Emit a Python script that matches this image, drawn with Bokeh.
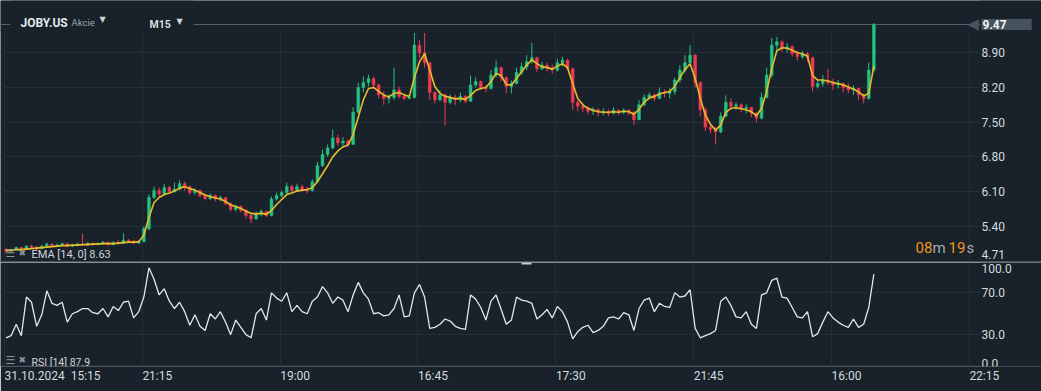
from bokeh.plotting import figure
from bokeh.models import (Range1d, FixedTicker, Grid, Label, Span, BoxAnnotation, Div,
                          CustomJSTickFormatter, ColumnDataSource)
from bokeh.layouts import column
from bokeh.embed import file_html
from bokeh.resources import INLINE

# ---------------- data ----------------
symbol = "JOBY.US"
asset_kind = "Akcie"
timeframe = "M15"
time_labels = ["31.10.2024\u00a0\u00a015:15", "21:15", "19:00", "16:45", "17:30", "21:45", "16:00", "22:15"]
candles_per_label = 27
price_ticks = [5.40, 6.10, 6.80, 7.50, 8.20, 8.90]
rsi_ticks = [30.0, 70.0]
rsi_bounds = [0.0, 100.0]
last_price = 9.47
price_floor_label = 4.71
ema_last = 8.63
rsi_last = 87.9
countdown = ("08", "m", "19", "s")

first_open = 4.93
close = [
    4.90, 4.93, 4.97, 4.94, 5.00, 4.98, 4.95, 5.00, 5.04, 5.01,
    5.02, 5.05, 5.00, 5.02, 5.04, 5.03, 5.06, 5.04, 5.05, 5.08,
    5.03, 5.07, 5.06, 5.12, 5.10, 5.06, 5.09, 5.35, 5.98, 6.12,
    6.05, 6.18, 6.10, 6.15, 6.26, 6.20, 6.08, 6.12, 6.02, 5.96,
    6.02, 5.95, 5.98, 5.86, 5.74, 5.80, 5.72, 5.62, 5.55, 5.66,
    5.70, 5.62, 5.95, 6.02, 6.08, 6.20, 6.12, 6.20, 6.15, 6.12,
    6.30, 6.62, 6.85, 6.98, 7.18, 7.08, 7.12, 7.05, 7.70, 8.20,
    8.30, 8.38, 8.25, 8.05, 7.98, 8.00, 8.15, 8.02, 7.98, 8.00,
    9.05, 8.90, 8.70, 8.10, 7.95, 8.05, 7.90, 8.00, 7.95, 8.02,
    7.92, 8.25, 8.32, 8.20, 8.18, 8.45, 8.60, 8.40, 8.22, 8.28,
    8.50, 8.62, 8.72, 8.80, 8.58, 8.65, 8.60, 8.55, 8.70, 8.75,
    8.58, 7.90, 7.82, 7.78, 7.72, 7.75, 7.70, 7.72, 7.68, 7.74,
    7.70, 7.74, 7.70, 7.55, 7.85, 8.00, 8.05, 7.98, 8.10, 8.08,
    8.12, 8.35, 8.55, 8.70, 8.85, 8.30, 7.75, 7.40, 7.35, 7.30,
    7.62, 7.90, 7.82, 7.85, 7.78, 7.80, 7.68, 7.58, 8.00, 8.45,
    9.05, 9.12, 8.98, 9.02, 8.88, 8.82, 8.88, 8.80, 8.22, 8.28,
    8.35, 8.30, 8.25, 8.28, 8.20, 8.15, 8.18, 8.05, 7.98, 8.55,
    9.47,
]
high = [
    4.96, 4.95, 4.99, 4.99, 5.02, 5.03, 5.00, 5.02, 5.07, 5.06,
    5.05, 5.07, 5.06, 5.04, 5.07, 5.25, 5.08, 5.07, 5.08, 5.10,
    5.09, 5.10, 5.12, 5.26, 5.14, 5.12, 5.12, 5.40, 6.05, 6.20,
    6.18, 6.25, 6.22, 6.28, 6.33, 6.30, 6.22, 6.16, 6.14, 6.06,
    6.06, 6.04, 6.02, 5.99, 5.88, 5.84, 5.82, 5.74, 5.65, 5.70,
    5.74, 5.72, 6.00, 6.08, 6.12, 6.28, 6.24, 6.26, 6.24, 6.20,
    6.35, 6.70, 6.95, 7.05, 7.35, 7.25, 7.20, 7.15, 7.80, 8.30,
    8.42, 8.46, 8.42, 8.28, 8.12, 8.06, 8.60, 8.22, 8.08, 8.04,
    9.30, 9.15, 9.30, 8.70, 8.12, 8.15, 8.08, 8.06, 8.05, 8.10,
    8.05, 8.44, 8.40, 8.34, 8.25, 8.55, 8.74, 8.62, 8.42, 8.34,
    8.60, 8.70, 8.85, 9.10, 8.82, 8.72, 8.70, 8.66, 8.78, 8.82,
    8.78, 8.60, 7.95, 7.88, 7.82, 7.80, 7.78, 7.78, 7.76, 7.80,
    7.76, 7.78, 7.76, 7.72, 7.95, 8.06, 8.10, 8.08, 8.20, 8.16,
    8.18, 8.40, 8.65, 8.85, 9.06, 8.88, 8.32, 7.80, 7.45, 7.40,
    7.70, 8.04, 7.98, 7.90, 7.88, 7.86, 7.80, 7.70, 8.10, 8.60,
    9.20, 9.22, 9.15, 9.10, 9.05, 8.95, 8.94, 8.92, 8.82, 8.35,
    8.45, 8.58, 8.38, 8.35, 8.30, 8.28, 8.24, 8.20, 8.08, 8.70,
    9.50,
]
low = [
    4.86, 4.87, 4.91, 4.90, 4.93, 4.95, 4.92, 4.94, 4.99, 4.98,
    4.98, 5.00, 4.98, 4.98, 5.00, 5.00, 5.01, 5.01, 5.02, 5.03,
    5.01, 5.02, 5.03, 5.05, 5.06, 5.04, 5.05, 5.08, 5.32, 5.95,
    5.98, 6.02, 6.05, 6.08, 6.12, 6.12, 6.04, 6.04, 5.98, 5.92,
    5.93, 5.90, 5.90, 5.82, 5.70, 5.70, 5.68, 5.55, 5.46, 5.53,
    5.60, 5.58, 5.60, 5.92, 5.98, 6.05, 6.08, 6.10, 6.10, 6.06,
    6.10, 6.28, 6.60, 6.80, 6.95, 7.02, 7.02, 7.00, 7.05, 7.68,
    8.10, 8.22, 8.18, 7.98, 7.85, 7.88, 7.95, 7.98, 7.95, 7.96,
    7.98, 8.80, 8.60, 7.95, 7.88, 7.92, 7.43, 7.86, 7.85, 7.90,
    7.88, 7.92, 8.20, 8.15, 8.10, 8.16, 8.40, 8.32, 8.08, 8.08,
    8.26, 8.45, 8.55, 8.68, 8.52, 8.55, 8.52, 8.48, 8.52, 8.62,
    8.55, 7.75, 7.72, 7.70, 7.66, 7.65, 7.62, 7.64, 7.62, 7.66,
    7.64, 7.66, 7.64, 7.45, 7.55, 7.82, 7.95, 7.92, 7.96, 8.00,
    7.98, 8.05, 8.30, 8.50, 8.62, 8.20, 7.62, 7.32, 7.28, 7.05,
    7.28, 7.60, 7.75, 7.74, 7.70, 7.68, 7.60, 7.50, 7.56, 7.98,
    8.40, 8.95, 8.92, 8.90, 8.82, 8.74, 8.78, 8.72, 8.12, 8.18,
    8.22, 8.25, 8.15, 8.18, 8.10, 8.08, 8.05, 7.95, 7.88, 7.96,
    8.52,
]
ema = [
    4.91, 4.92, 4.93, 4.93, 4.94, 4.95, 4.96, 4.97, 4.98, 4.99,
    5.00, 5.01, 5.01, 5.02, 5.02, 5.03, 5.03, 5.04, 5.04, 5.05,
    5.05, 5.05, 5.06, 5.07, 5.08, 5.08, 5.09, 5.22, 5.58, 5.88,
    5.98, 6.04, 6.07, 6.11, 6.17, 6.20, 6.16, 6.13, 6.08, 6.03,
    6.00, 5.97, 5.95, 5.90, 5.83, 5.80, 5.76, 5.71, 5.66, 5.65,
    5.66, 5.64, 5.72, 5.84, 5.94, 6.04, 6.07, 6.11, 6.13, 6.14,
    6.18, 6.30, 6.46, 6.62, 6.80, 6.92, 7.00, 7.04, 7.25, 7.60,
    7.95, 8.18, 8.20, 8.12, 8.05, 8.01, 8.08, 8.10, 8.05, 8.02,
    8.40, 8.72, 8.88, 8.55, 8.22, 8.08, 8.02, 8.00, 7.97, 7.98,
    7.96, 8.04, 8.14, 8.18, 8.20, 8.32, 8.48, 8.44, 8.26, 8.25,
    8.38, 8.52, 8.65, 8.76, 8.68, 8.62, 8.60, 8.57, 8.63, 8.68,
    8.60, 8.28, 7.98, 7.85, 7.78, 7.74, 7.71, 7.70, 7.70, 7.71,
    7.70, 7.72, 7.71, 7.66, 7.76, 7.90, 7.99, 8.02, 8.07, 8.10,
    8.12, 8.22, 8.40, 8.56, 8.68, 8.38, 7.98, 7.64, 7.46, 7.34,
    7.44, 7.70, 7.78, 7.79, 7.77, 7.75, 7.71, 7.63, 7.78, 8.12,
    8.58, 8.94, 9.00, 8.99, 8.95, 8.90, 8.88, 8.83, 8.44, 8.35,
    8.35, 8.33, 8.30, 8.28, 8.25, 8.21, 8.17, 8.11, 8.03, 8.08,
    8.63,
]
rsi = [
    27, 29, 40, 29, 66, 61, 38, 49, 72, 60,
    58, 61, 42, 50, 52, 55, 55, 51, 50, 55,
    47, 57, 53, 61, 62, 46, 52, 66, 94, 83,
    68, 74, 62, 55, 61, 52, 39, 49, 38, 34,
    50, 45, 52, 42, 30, 44, 37, 30, 27, 50,
    55, 44, 70, 65, 62, 70, 52, 58, 52, 50,
    62, 66, 76, 70, 60, 66, 63, 52, 68, 80,
    70, 64, 50, 51, 48, 49, 55, 68, 47, 48,
    70, 78, 66, 36, 37, 40, 45, 43, 38, 36,
    35, 68, 64, 56, 44, 62, 68, 54, 40, 44,
    66, 63, 62, 60, 45, 49, 54, 46, 57, 52,
    42, 26, 33, 37, 39, 32, 34, 38, 46, 47,
    45, 51, 49, 34, 55, 63, 65, 52, 60, 57,
    56, 70, 66, 67, 73, 36, 27, 29, 31, 34,
    62, 66, 58, 47, 46, 52, 40, 36, 68, 70,
    82, 84, 66, 65, 56, 47, 46, 52, 28, 31,
    42, 52, 46, 42, 39, 37, 45, 37, 40, 56,
    88,
]

# ---------------- styling ----------------
BG = "#19212a"
GRID = "#252e37"
TXT = "#d6dadd"
GREEN = "#26c281"
RED = "#ef3b4f"
EMA_C = "#e6bd2a"
SEP = "#4a545e"
BOXC = "#46535d"
FONT = "Roboto"
W = 1041
PX = 5.105            # pixels per candle slot
X0 = -1.08            # left edge of the plot in candle units
LABEL_X = 981         # left edge of the right-hand value labels (px)

n = len(close)
idx = list(range(n))
opens = [first_open] + close[:-1]
colors = [GREEN if c >= o else RED for o, c in zip(opens, close)]
src = ColumnDataSource(dict(
    x=idx, high=high, low=low,
    top=[max(o, c) for o, c in zip(opens, close)],
    bottom=[min(o, c) for o, c in zip(opens, close)],
    color=colors,
))
grid_pos = [candles_per_label * k - 0.3 for k in range(len(time_labels))]
label_centres = [grid_pos[0] + 48 / PX] + [g + 15 / PX for g in grid_pos[1:]]

xr = Range1d(X0, X0 + W / PX)


def lab(p, text, x, y, size, color, bold=False, font=FONT, baseline="alphabetic",
        y_units="screen", **kw):
    p.add_layout(Label(x=x, y=y, x_units="screen", y_units=y_units, text=text, text_font=font,
                       text_font_size=size, text_color=color,
                       text_font_style="bold" if bold else "normal",
                       text_baseline=baseline, **kw))


def right_mask(p):
    p.add_layout(BoxAnnotation(left=LABEL_X - 1, left_units="screen", fill_color=BG,
                               fill_alpha=1.0, line_alpha=0, level="underlay"))


# ---------------- price pane ----------------
H1 = 261
p1 = figure(width=W, height=H1, x_range=xr, y_range=Range1d(4.690, 9.954),
            output_backend="svg", toolbar_location=None,
            x_axis_location=None, y_axis_location=None,
            min_border_left=0, min_border_right=0, min_border_top=0, min_border_bottom=0,
            background_fill_color=BG, border_fill_color=BG, outline_line_color=None)
for g in p1.grid:
    g.visible = False
p1.add_layout(Grid(dimension=0, ticker=FixedTicker(ticks=grid_pos), grid_line_color=GRID))
p1.add_layout(Grid(dimension=1, ticker=FixedTicker(ticks=price_ticks), grid_line_color=GRID))
# top strip without grid lines
p1.add_layout(BoxAnnotation(bottom=H1 - 31, bottom_units="screen", fill_color=BG, fill_alpha=1.0,
                            line_alpha=0, level="underlay"))
p1.add_layout(Span(location=last_price, dimension="width", line_color="#56626c", line_width=1,
                   level="underlay"))
p1.add_layout(BoxAnnotation(left=10, right=193, bottom=H1 - 31, top=H1,
                            left_units="screen", right_units="screen",
                            bottom_units="screen", top_units="screen",
                            fill_color=BG, fill_alpha=1.0, line_alpha=0, level="underlay"))
right_mask(p1)

p1.segment(x0="x", y0="low", x1="x", y1="high", line_color="color", line_width=1, source=src)
p1.vbar(x="x", width=0.55, top="top", bottom="bottom", fill_color="color", line_color="color",
        line_width=0.5, source=src)
p1.line(idx, ema, line_color=EMA_C, line_width=1.6)

# price scale labels
for t in price_ticks:
    lab(p1, f"{t:.2f}", LABEL_X, t, "12px", TXT, baseline="middle", y_units="data")
# bottom-edge label kept inside the pane
lab(p1, f"{price_floor_label:.2f}", LABEL_X, 7, "12px", TXT)
lab(p1, "\u25C0", 967, last_price, "15px", BOXC, font="DejaVu Sans", baseline="middle", y_units="data")
lab(p1, f"{last_price:.2f}", LABEL_X, last_price, "12px", "#f2f4f5", bold=True, baseline="middle",
    y_units="data", background_fill_color=BOXC, padding=(1, 25, 1, 1))

# header
lab(p1, symbol, 20, H1 - 22.7, "12px", "#e3e7ea", bold=True)
lab(p1, asset_kind, 71, H1 - 22.3, "9.5px", "#9aa6ae")
lab(p1, "\u25BC", 99, H1 - 18.5, "8px", "#d0d5d9", font="DejaVu Sans")
lab(p1, timeframe, 149, H1 - 24, "10.5px", "#d8dcdf", bold=True)
lab(p1, "\u25BC", 176, H1 - 21, "8px", "#d0d5d9", font="DejaVu Sans")

# EMA legend
lab(p1, "\u2630", 5, 8, "11px", "#8c959c", font="DejaVu Sans")
lab(p1, "\u2716", 18, 8.5, "9px", "#8c959c", font="DejaVu Sans")
lab(p1, f"EMA [14, 0] {ema_last:.2f}", 31, 7, "11px", "#cfd4d8")

# countdown
lab(p1, countdown[0], 915, 14, "15px", "#f0961a")
lab(p1, countdown[1], 932, 14, "15px", "#a3abb1")
lab(p1, countdown[2], 948, 14, "15px", "#f0961a")
lab(p1, countdown[3], 966, 14, "15px", "#a3abb1")

# separator between panes
sep = Div(text="", width=W, height=1, margin=0,
          styles={"background-color": SEP, "overflow": "hidden"})

# ---------------- RSI pane ----------------
H2 = 129
F2 = H2 - 25          # frame height of the RSI pane
p2 = figure(width=W, height=H2, x_range=xr, y_range=Range1d(-0.48, 99.05),
            output_backend="svg", toolbar_location=None,
            x_axis_location="below", y_axis_location=None,
            min_border_left=0, min_border_right=0, min_border_top=0, min_border_bottom=25,
            background_fill_color=BG, border_fill_color=BG, outline_line_color=None)
for g in p2.grid:
    g.visible = False
p2.add_layout(Grid(dimension=0, ticker=FixedTicker(ticks=grid_pos), grid_line_color=GRID))
p2.add_layout(Grid(dimension=1, ticker=FixedTicker(ticks=[rsi_bounds[0]] + rsi_ticks),
                   grid_line_color=GRID))
right_mask(p2)

xa = p2.xaxis[0]
xa.ticker = FixedTicker(ticks=label_centres)
xa.formatter = CustomJSTickFormatter(args=dict(labels=time_labels, step=candles_per_label, off=0.3),
                                     code="return labels[Math.round((tick + off) / step)];")
xa.major_tick_out = 0
xa.major_tick_in = 0
xa.minor_tick_line_color = None
xa.axis_line_color = None
xa.major_label_standoff = 2
xa.major_label_text_font = FONT
xa.major_label_text_font_size = "12px"
xa.major_label_text_color = TXT

p2.line(idx, rsi, line_color="#e4e6e8", line_width=1.3)

for t in rsi_ticks:
    lab(p2, f"{t:.1f}", LABEL_X, t, "12px", TXT, baseline="middle", y_units="data")
# edge labels kept inside the pane
lab(p2, f"{rsi_bounds[1]:.1f}", LABEL_X, F2 - 1, "12px", TXT, baseline="top")
lab(p2, f"{rsi_bounds[0]:.1f}", LABEL_X, 3, "12px", TXT)
lab(p2, "\u2630", 5, 6, "11px", "#8c959c", font="DejaVu Sans")
lab(p2, "\u2716", 18, 6.5, "9px", "#8c959c", font="DejaVu Sans")
lab(p2, f"RSI [14] {rsi_last:.1f}", 31, 4, "10.5px", "#cfd4d8")
p2.add_layout(BoxAnnotation(left=521, right=531, top=F2, bottom=F2 - 2,
                            left_units="screen", right_units="screen",
                            bottom_units="screen", top_units="screen",
                            fill_color="#c9ced2", fill_alpha=1.0, line_alpha=0))

layout = column(p1, sep, p2, spacing=0)
open("out.html", "w").write(file_html(layout, INLINE))
